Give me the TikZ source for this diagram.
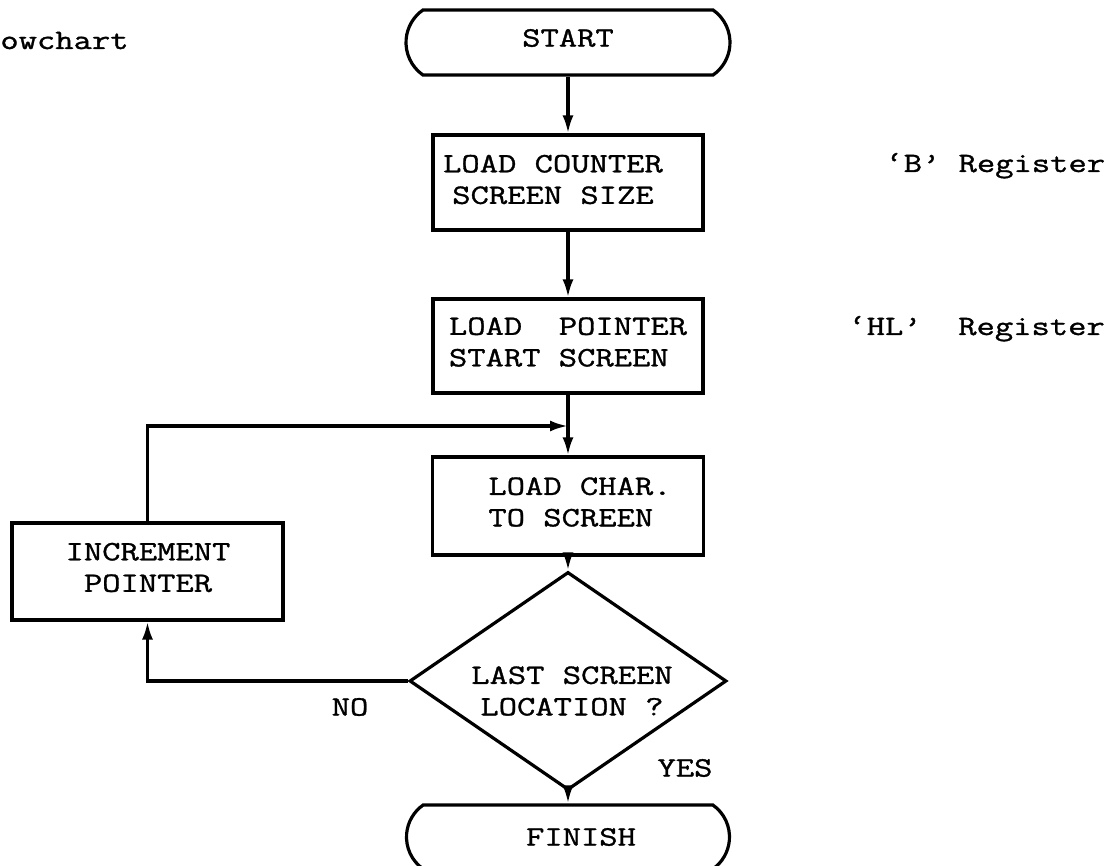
\documentclass[tikz,border=0pt]{standalone}
\usepackage{fontspec}
\usetikzlibrary{shapes.geometric,shapes.misc,arrows.meta}
\newfontfamily\tw[FakeStretch=1.27,FakeBold=1.2]{Latin Modern Mono}
\begin{document}
\begin{tikzpicture}[x=0.5pt,y=-0.5pt,
  every node/.style={font=\tw\fontsize{14pt}{15.75pt}\selectfont},
  box/.style={draw,line width=1.6pt,rectangle,inner sep=0pt},
  term/.style={draw,line width=1.6pt,rounded rectangle,rounded rectangle arc length=110,inner sep=0pt},
  dec/.style={draw,line width=1.6pt,diamond,inner sep=0pt},
  txt/.style={inner sep=0pt,align=center},
  txtl/.style={inner sep=0pt,align=left},
  flow/.style={line width=1.6pt,-{Latex[length=9pt,width=5.5pt]}}]
\useasboundingbox (0,0) rectangle (1115,866);

% shapes
\node[term,minimum width=162pt,minimum height=32.5pt] (start) at (568,42.5) {};
\node[box,minimum width=135pt,minimum height=47.5pt] (b1) at (568,182.5) {};
\node[box,minimum width=135pt,minimum height=47pt] (b2) at (568,346) {};
\node[box,minimum width=135.5pt,minimum height=49pt] (b3) at (568,506) {};
\node[dec,minimum width=158.5pt,minimum height=109pt] (dec) at (568,681) {};
\node[term,minimum width=161.5pt,minimum height=32pt] (fin) at (568,837) {};
\node[box,minimum width=135.5pt,minimum height=48.5pt] (inc) at (147.5,571.5) {};
\coordinate (j) at (568,426);

% texts
\node[txt] (tstart) at (568,38) {START};
\node[txt] (t1) at (553,179.5) {LOAD COUNTER\\SCREEN SIZE};
\node[txtl] (t2) at (568,342) {LOAD\ \ POINTER\\START SCREEN};
\node[txtl] (t3) at (580,502) {LOAD CHAR.\\TO SCREEN};
\node[txt] (t4) at (148,567.5) {INCREMENT\\POINTER};
\node[txt] (t5) at (572,691) {LAST SCREEN\\ LOCATION ?};
\node[txt] (tfin) at (581,837) {FINISH};
\node[txt] (tno) at (350,707) {NO};
\node[txt] (tyes) at (685,768) {YES};
\node[inner sep=0pt,anchor=base west] (tfc) at (0,49) {owchart};
\node[inner sep=0pt,anchor=base west] (treg1) at (885,172) {‘B’ Register};
\node[inner sep=0pt,anchor=base west] (treg2) at (848,335) {‘HL’\ \ Register};

% connectors
\draw[flow] (start) -- (b1);
\draw[flow] (b1) -- (b2);
\draw[flow] (b2) -- (b3);
\draw[flow] (b3) -- (dec);
\draw[flow] (dec) -- (fin);
\draw[flow] (dec.west) -| (inc.south);
\draw[flow] (inc.north) |- (j);
\end{tikzpicture}
\end{document}
